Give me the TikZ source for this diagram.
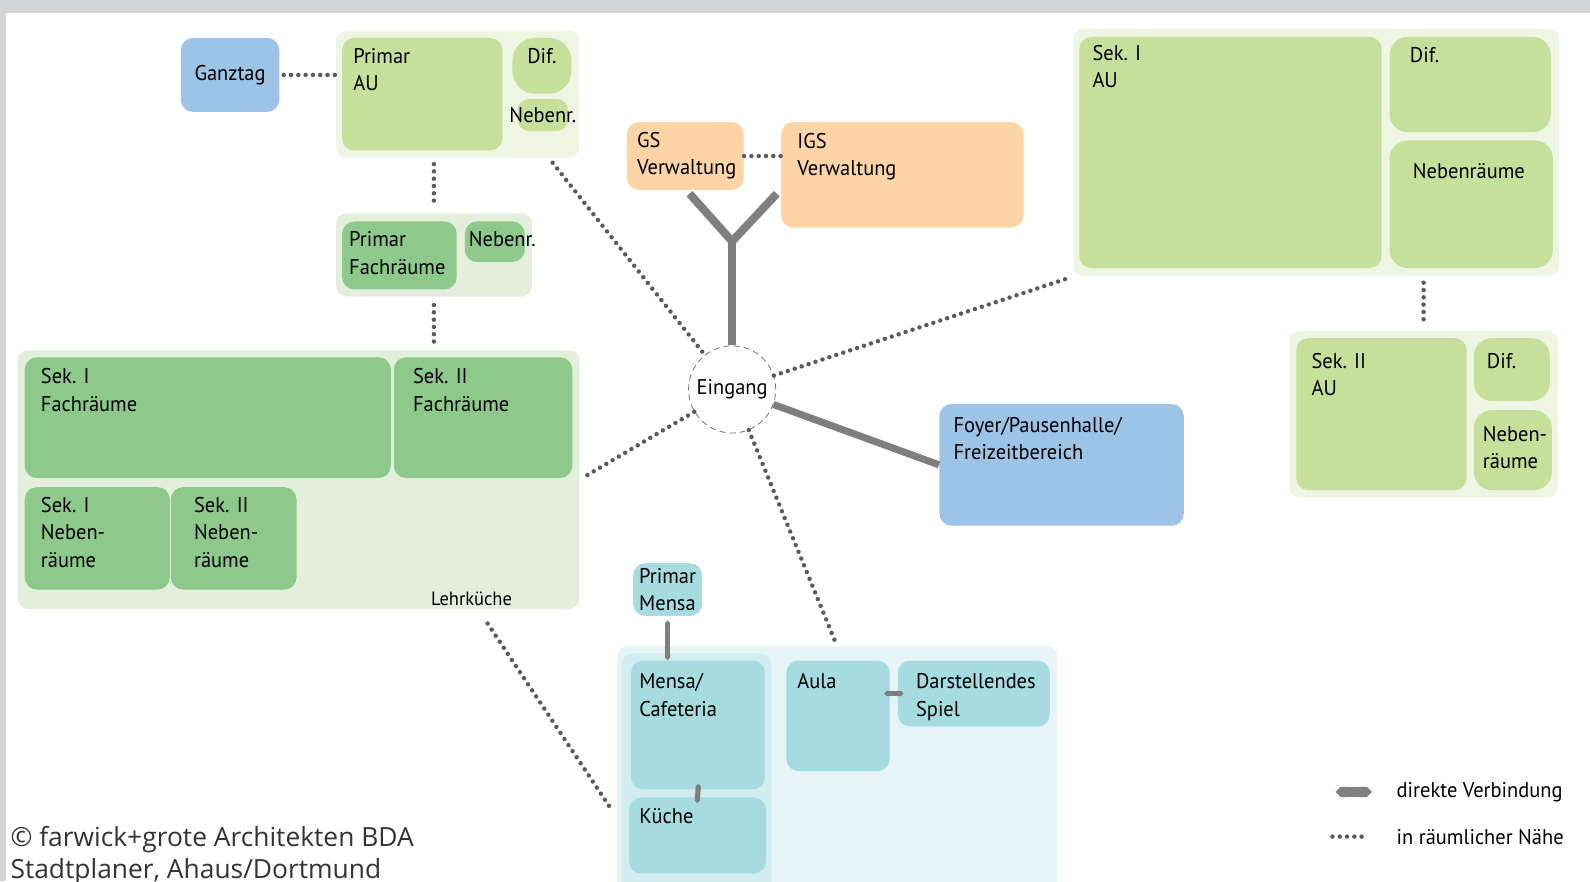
\documentclass[tikz,border=0pt]{standalone}
\usepackage{fontspec}
\setmainfont{PT Sans}[FakeStretch=0.96]
\newfontfamily\notefont{Open Sans}
\usetikzlibrary{arrows.meta}

\definecolor{augreen}{HTML}{C6DF9B}
\definecolor{fachgreen}{HTML}{8CC98A}
\definecolor{grpgreen}{HTML}{EEF5E3}
\definecolor{grpfach}{HTML}{E3EFDC}
\definecolor{roomblue}{HTML}{9DC3E6}
\definecolor{roomorange}{HTML}{FDD4A5}
\definecolor{roomcyan}{HTML}{A6DBE0}
\definecolor{grpcyan}{HTML}{E6F4F6}
\definecolor{colcyan}{HTML}{D3ECEF}
\definecolor{linkgray}{HTML}{7F7F7F}
\definecolor{dotgray}{HTML}{5A5A5A}
\definecolor{framegray}{HTML}{D4D5D7}

\begin{document}
\begin{tikzpicture}[x=0.5pt, y=-0.5pt, font=\fontsize{10.5}{13.5}\selectfont,
	room/.style = {rectangle, rounded corners=6pt, anchor=north west, inner sep=0pt},
	grp/.style = {room, rounded corners=5pt},
	txt/.style = {anchor=north west, align=left, inner xsep=6pt, inner ysep=5pt},
	direct/.style = {draw=linkgray, line width=3.5pt},
	shortlink/.style = {direct, line width=2.5pt, {Triangle Cap}-{Triangle Cap}},
	near/.style = {draw=dotgray, line width=2.2pt, line cap=round, dash pattern=on 0pt off 3.6pt}]
	\useasboundingbox (0,0) rectangle (1568,869);
	\fill[framegray] (0,0) rectangle (1568,13);
	\fill[framegray] (0,0) rectangle (6,869);

	% Primarstufe
	\node[room, fill=roomblue, minimum width=48.5pt, minimum height=36.5pt] (ganztag) at (178,37) {Ganztag};
	\node[grp, fill=grpgreen, minimum width=120pt, minimum height=62.5pt] (primgrp) at (331,30) {};
	\node[room, fill=augreen, minimum width=79pt, minimum height=55.5pt, label={[txt,inner xsep=5.5pt]north west:{Primar\\AU}}] (primau) at (337,37) {};
	\node[room, fill=augreen, rounded corners=11pt, minimum width=29pt, minimum height=27.5pt, label={[txt,anchor=north]north:Dif.}] (primdif) at (505,37) {};
	\node[room, fill=augreen, minimum width=25pt, minimum height=16pt] (primneb) at (510,97) {\makebox[0pt]{Nebenr.}};
	\node[grp, fill=grpfach, minimum width=96.5pt, minimum height=41pt] (primfgrp) at (331,210) {};
	\node[room, fill=fachgreen, minimum width=56.5pt, minimum height=33.5pt, label={[txt,inner xsep=3.5pt]north west:{Primar\\Fachräume}}] (primfach) at (337,218) {};
	\node[room, fill=fachgreen, minimum width=29.5pt, minimum height=20pt, label={[txt,inner xsep=2pt]north west:Nebenr.}] (primfneb) at (458,218) {};

	% Fachraeume Sek I / II
	\node[grp, fill=grpfach, minimum width=277pt, minimum height=127.5pt] (sekfgrp) at (17,345) {};
	\node[room, fill=fachgreen, minimum width=180.5pt, minimum height=59.5pt, label={[txt,inner xsep=8pt,inner ysep=5.5pt]north west:{Sek. I\\Fachräume}}] (s1fach) at (24,352) {};
	\node[room, fill=fachgreen, minimum width=88pt, minimum height=59.5pt, label={[txt,inner xsep=9.5pt,inner ysep=5.5pt]north west:{Sek. II\\Fachräume}}] (s2fach) at (388,352) {};
	\node[room, fill=fachgreen, minimum width=71.5pt, minimum height=50.5pt, label={[txt,inner xsep=8pt]north west:{Sek. I\\Neben-\\räume}}] (s1neb) at (24,480) {};
	\node[room, fill=fachgreen, minimum width=62pt, minimum height=50.5pt, label={[txt,inner xsep=11.5pt]north west:{Sek. II\\Neben-\\räume}}] (s2neb) at (168,480) {};
	\node[font=\fontsize{9.5}{11}\selectfont] (lehrk) at (465,591) {Lehrküche};

	% Verwaltung, Eingang, Foyer
	\node[room, fill=roomorange, minimum width=57.5pt, minimum height=33.5pt, label={[txt,inner xsep=5pt]north west:{GS\\Verwaltung}}] (gsverw) at (618,120) {};
	\node[room, fill=roomorange, minimum width=119.5pt, minimum height=52pt, label={[txt,inner xsep=8pt,inner ysep=5.5pt]north west:{IGS\\Verwaltung}}] (igsverw) at (770,120) {};
	\node[circle, draw=black!55, densely dashed, line width=0.4pt, fill=white, minimum size=43pt, inner sep=0pt] (eingang) at (722,384) {Eingang};
	\node[room, fill=roomblue, minimum width=120.5pt, minimum height=60pt, label={[txt,inner xsep=7pt,inner ysep=6.5pt]north west:{Foyer/Pausenhalle/\\Freizeitbereich}}] (foyer) at (926,398) {};

	% Sek I / Sek II
	\node[grp, fill=grpgreen, minimum width=239.5pt, minimum height=122pt] (s1grp) at (1058,28) {};
	\node[room, fill=augreen, minimum width=149pt, minimum height=114pt, label={[txt,inner xsep=6.5pt,inner ysep=4pt]north west:{Sek. I\\AU}}] (s1au) at (1064,36) {};
	\node[room, fill=augreen, rounded corners=9pt, minimum width=79.5pt, minimum height=47pt, label={[txt,inner xsep=10pt]north west:Dif.}] (s1dif) at (1370,36) {};
	\node[room, fill=augreen, rounded corners=9pt, minimum width=80.5pt, minimum height=63pt, label={[txt,inner xsep=11.5pt,inner ysep=11.5pt]north west:Nebenräume}] (s1nebr) at (1370,138) {};
	\node[grp, fill=grpgreen, minimum width=132.5pt, minimum height=82pt] (s2grp) at (1271,326) {};
	\node[room, fill=augreen, minimum width=84pt, minimum height=75pt, label={[txt,inner xsep=7.5pt,inner ysep=7.5pt]north west:{Sek. II\\AU}}] (s2au) at (1278,333) {};
	\node[room, fill=augreen, rounded corners=9pt, minimum width=37.5pt, minimum height=31pt, label={[txt,inner xsep=6.5pt,inner ysep=7.5pt]north west:Dif.}] (s2dif) at (1453,333) {};
	\node[room, fill=augreen, rounded corners=9pt, minimum width=38.5pt, minimum height=39.5pt, label={[txt,inner xsep=4.5pt,inner ysep=8pt]north west:{Neben-\\räume}}] (s2nebr) at (1453,404) {};

	% Mensa, Aula
	\node[grp, fill=grpcyan, minimum width=217pt, minimum height=122pt] (mensagrp) at (608,637) {};
	\node[grp, fill=colcyan, minimum width=73.5pt, minimum height=118pt] (mensacol) at (613,644) {};
	\node[room, fill=roomcyan, minimum width=66pt, minimum height=63.5pt, label={[txt,inner xsep=4pt,inner ysep=6.5pt]north west:{Mensa/\\Cafeteria}}] (mensa) at (622,651) {};
	\node[room, fill=roomcyan, minimum width=67.5pt, minimum height=37.5pt, label={[txt,inner xsep=5pt,inner ysep=5.5pt]north west:Küche}] (kueche) at (620,786) {};
	\node[room, fill=roomcyan, minimum width=51pt, minimum height=54.5pt, label={[txt,inner xsep=5.5pt,inner ysep=6.5pt]north west:Aula}] (aula) at (775,651) {};
	\node[room, fill=roomcyan, minimum width=75pt, minimum height=32.5pt, label={[txt,inner xsep=9pt,inner ysep=6.5pt]north west:{Darstellendes\\Spiel}}] (darst) at (885,651) {};
	\node[room, fill=roomcyan, minimum width=34pt, minimum height=26pt, align=left, inner sep=1pt] (primmensa) at (624,555) {Primar\\Mensa};

	% direkte Verbindungen
	\coordinate (ybr) at (722,238);
	\coordinate (ygs) at (680,191);
	\coordinate (yigs) at (766,191);
	\draw[direct, line width=4pt] (ygs) -- (ybr) -- (yigs);
	\draw[direct, line width=4pt] (eingang) -- (ybr);
	\draw[direct] (eingang) -- (foyer.west);
	\draw[shortlink, shorten <=2pt] (primmensa.south) -- (primmensa.south |- mensa.north);
	\draw[shortlink, shorten <=-3pt, shorten >=-3pt] (mensa.south) -- (kueche.north);
	\draw[shortlink, shorten <=-3pt, shorten >=-3pt] (darst.west -| aula.east) -- (darst.west);

	% raeumliche Naehe
	\draw[near, shorten <=2pt] (ganztag) -- (ganztag -| primgrp.west);
	\draw[near, shorten <=3pt, shorten >=3pt] (primgrp.south -| primfgrp.north) -- (primfgrp.north);
	\draw[near, shorten <=4pt, shorten >=4pt] (primfgrp.south) -- (primfgrp.south |- sekfgrp.north);
	\draw[near, shorten <=3pt] (primgrp.-35) -- (eingang);
	\draw[near] (gsverw) -- (gsverw -| igsverw.west);
	\draw[near, shorten >=1pt] (eingang) -- (s1grp.south west);
	\draw[near, shorten <=3pt, shorten >=3pt] (s1grp.south -| s2grp.north) -- (s2grp.north);
	\draw[near, shorten >=1pt] (eingang) -- (sekfgrp.east);
	\draw[near] (eingang) -- (mensagrp.north);
	\draw[near, shorten <=6pt, shorten >=15pt] (lehrk) -- (kueche.west);

	% Legende
	\coordinate (legdira) at (1317,781);
	\coordinate (legdirb) at (1353,781);
	\draw[direct, line width=5pt, {Triangle Cap}-{Triangle Cap}] (legdira) -- (legdirb);
	\node[anchor=west, inner sep=0pt] (legdir) at (1377,781) {direkte Verbindung};
	\coordinate (legnaha) at (1314,825);
	\coordinate (legnahb) at (1350,825);
	\draw[near] (legnaha) -- (legnahb);
	\node[anchor=west, inner sep=0pt] (legnah) at (1377,825) {in räumlicher Nähe};

	\node[anchor=north west, align=left, inner sep=0pt, text=black!80, font=\notefont\fontsize{13}{16}\selectfont] (copyr) at (10,814) {© farwick+grote Architekten BDA\\Stadtplaner, Ahaus/Dortmund};
\end{tikzpicture}
\end{document}
